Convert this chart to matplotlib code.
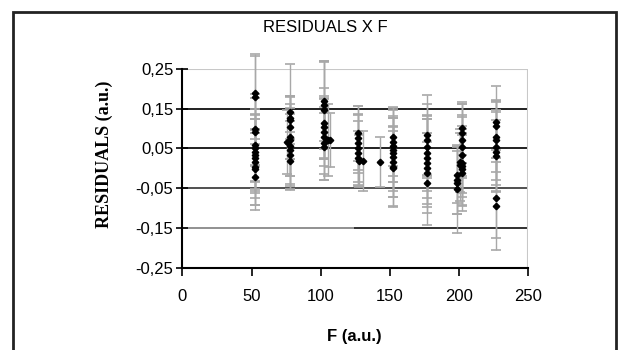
import numpy as np
import matplotlib
matplotlib.use('Agg')
import matplotlib.pyplot as plt
from matplotlib.patches import Rectangle

# F value of each cluster, residuals and error half-widths
f_52 = [52.5] * 13
r_52 = [0.189, 0.179, 0.098, 0.092, 0.059, 0.050, 0.042, 0.034, 0.025, 0.017, 0.004, -0.002, -0.022]
e_52 = [0.100, 0.105, 0.090, 0.085, 0.090, 0.085, 0.095, 0.090, 0.100, 0.080, 0.095, 0.090, 0.083]

f_78 = [77.5, 77.5, 77.5, 77.5, 77.5, 77.5, 76.0, 77.5, 77.5, 77.5, 77.5]
r_78 = [0.143, 0.128, 0.122, 0.103, 0.080, 0.071, 0.067, 0.056, 0.046, 0.034, 0.019]
e_78 = [0.120, 0.055, 0.060, 0.080, 0.100, 0.090, 0.080, 0.095, 0.090, 0.085, 0.073]

f_103 = [102.5, 102.5, 102.5, 102.5, 102.5, 102.5, 102.5, 105.5, 102.5, 102.5, 107.0]
r_103 = [0.170, 0.159, 0.147, 0.113, 0.103, 0.092, 0.080, 0.071, 0.063, 0.055, 0.071]
e_103 = [0.100, 0.110, 0.120, 0.090, 0.080, 0.085, 0.095, 0.090, 0.092, 0.084, 0.068]

f_127 = [127.0, 127.0, 127.0, 127.0, 127.0, 127.0, 128.0, 131.0]
r_127 = [0.088, 0.076, 0.063, 0.050, 0.038, 0.025, 0.019, 0.019]
e_127 = [0.070, 0.080, 0.075, 0.085, 0.080, 0.070, 0.065, 0.075]

f_143 = [143.0]
r_143 = [0.015]
e_143 = [0.063]

f_153 = [152.5] * 9
r_153 = [0.080, 0.067, 0.056, 0.046, 0.038, 0.028, 0.017, 0.004, 0.000]
e_153 = [0.075, 0.085, 0.090, 0.080, 0.095, 0.100, 0.090, 0.100, 0.095]

f_177 = [177.0] * 9
r_177 = [0.084, 0.071, 0.055, 0.038, 0.025, 0.013, 0.000, -0.012, -0.038]
e_177 = [0.100, 0.090, 0.080, 0.095, 0.100, 0.110, 0.090, 0.100, 0.104]

f_200 = [198.5, 198.5, 198.5, 198.5, 201.0, 201.0,
         202.5, 202.5, 202.5, 202.5, 202.5, 202.5, 202.5, 202.5, 202.5]
r_200 = [-0.017, -0.029, -0.036, -0.052, 0.015, 0.008,
         0.101, 0.088, 0.071, 0.055, 0.034, 0.014, 0.006, -0.002, -0.012]
e_200 = [0.070, 0.085, 0.080, 0.110, 0.075, 0.090,
         0.067, 0.075, 0.090, 0.080, 0.095, 0.085, 0.100, 0.090, 0.095]

f_227 = [227.0] * 9
r_227 = [0.117, 0.107, 0.080, 0.071, 0.053, 0.042, 0.031, -0.075, -0.095]
e_227 = [0.090, 0.060, 0.090, 0.100, 0.095, 0.100, 0.090, 0.100, 0.110]

F = f_52 + f_78 + f_103 + f_127 + f_143 + f_153 + f_177 + f_200 + f_227
resid = r_52 + r_78 + r_103 + r_127 + r_143 + r_153 + r_177 + r_200 + r_227
err = e_52 + e_78 + e_103 + e_127 + e_143 + e_153 + e_177 + e_200 + e_227

y_ticks = [-0.25, -0.15, -0.05, 0.05, 0.15, 0.25]
x_ticks = [0, 50, 100, 150, 200, 250]

plt.rcParams['font.family'] = ['Liberation Sans', 'DejaVu Sans']

fig = plt.figure(figsize=(6.22, 3.5), dpi=100)
fig.patch.set_facecolor('white')
fig.patches.append(Rectangle((13 / 622, -0.1), 603 / 622, 1.1 - 12 / 350,
                             transform=fig.transFigure, fill=False,
                             edgecolor='#222222', linewidth=2))

ax = fig.add_axes([0.2934, 0.2351, 0.5551, 0.5677])
ax.set_xlim(0, 250)
ax.set_ylim(-0.25, 0.25)

# horizontal grid lines as in the original
ax.hlines(0.25, 0, 250, color='#c8c8c8', lw=1.5, zorder=1)
ax.hlines([0.15, 0.05], 0, 250, color='#202020', lw=1.4, zorder=1)
ax.hlines(-0.05, 0, 250, color='#505050', lw=1.4, zorder=1)
ax.hlines(-0.15, 0, 124, color='#909090', lw=1.4, zorder=1)
ax.hlines(-0.15, 124, 250, color='#303030', lw=1.4, zorder=1)
ax.vlines(250, -0.25, 0.25, color='#c8c8c8', lw=1.5, zorder=1)

eb = ax.errorbar(F, resid, yerr=err, fmt='none', ecolor='#a8a8a8',
                 elinewidth=1.0, capsize=3.8, capthick=1.2, zorder=2)
for part in eb.lines:
    for art in (part if isinstance(part, tuple) else [part]):
        if art is not None:
            art.set_clip_on(False)
ax.plot(F, resid, linestyle='none', marker='D', markersize=3.3,
        color='black', zorder=3)

for side in ['top', 'right']:
    ax.spines[side].set_visible(False)
ax.spines['left'].set_linewidth(1.5)
ax.spines['bottom'].set_linewidth(1.5)

ax.set_yticks(y_ticks)
ax.set_yticklabels(['-0,25', '-0,15', '-0,05', '0,05', '0,15', '0,25'])
ax.set_xticks(x_ticks)
ax.tick_params(axis='y', direction='inout', length=9, width=1.2, labelsize=12, pad=2)
ax.tick_params(axis='x', direction='out', length=6, width=1.2, labelsize=12, pad=9)

fig.text(325 / 622, 1 - 27 / 350, 'RESIDUALS X F', ha='center', va='center', fontsize=12)
fig.text(104.5 / 622, 1 - 154 / 350, 'RESIDUALS (a.u.)', ha='center', va='center',
         rotation=90, fontsize=13, fontweight='bold', family='Liberation Serif')
fig.text(354 / 622, 1 - 337 / 350, 'F (a.u.)', ha='center', va='center',
         fontsize=12, fontweight='bold')

fig.savefig('out.png', dpi=100)
